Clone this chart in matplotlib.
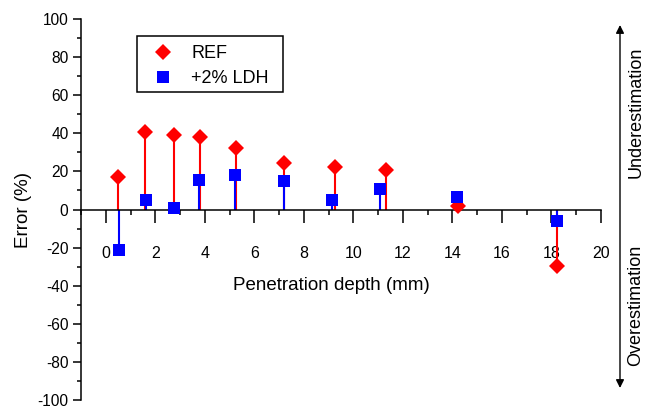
import matplotlib
matplotlib.use("Agg")
import matplotlib.pyplot as plt
from matplotlib.patches import Rectangle
from matplotlib.ticker import MultipleLocator

plt.rcParams["font.family"] = ["Liberation Sans", "DejaVu Sans"]
plt.rcParams["axes.unicode_minus"] = False

# ── Data ──────────────────────────────────────────────────────
ref_depth = [0.50, 1.58, 2.74, 3.82, 5.27, 7.21, 9.25, 11.32, 14.22, 18.24]
ref_error = [17.0, 40.5, 39.2, 37.8, 32.3, 24.5, 22.2, 20.5, 1.9, -29.8]

ldh_depth = [0.54, 1.63, 2.74, 3.75, 5.21, 7.19, 9.13, 11.08, 14.17, 18.24]
ldh_error = [-21.2, 5.2, 0.9, 15.3, 18.1, 15.1, 5.2, 10.8, 6.6, -6.1]

RED = "#ff0000"
BLUE = "#0000ff"

fig = plt.figure(figsize=(6.46, 4.09), dpi=100)
ax = fig.add_axes([81 / 646, 9 / 409, 520 / 646, 381 / 409])

# stems first, markers on top
ax.vlines(ref_depth, 0, ref_error, color=RED, lw=1.5, zorder=2)
ax.vlines(ldh_depth, 0, ldh_error, color=BLUE, lw=1.5, zorder=2)
ax.plot(ref_depth, ref_error, ls="none", marker="D", ms=7.8, color=RED,
        mew=0, label="REF", zorder=3)
ax.plot(ldh_depth, ldh_error, ls="none", marker="s", ms=8.4, color=BLUE,
        mew=0, label="+2% LDH", zorder=4)

ax.set_xlim(-1, 20)
ax.set_ylim(-100, 100)

# x axis drawn through zero, no frame on top/right
ax.spines["bottom"].set_position(("data", 0))
ax.spines["top"].set_visible(False)
ax.spines["right"].set_visible(False)
for s in ("left", "bottom"):
    ax.spines[s].set_linewidth(1.1)

ax.set_xticks(range(0, 21, 2))
ax.xaxis.set_minor_locator(MultipleLocator(1))
ax.yaxis.set_major_locator(MultipleLocator(20))
ax.yaxis.set_minor_locator(MultipleLocator(10))

ax.tick_params(axis="x", which="major", direction="out", length=9.5,
               width=1.1, pad=16.5, labelsize=11.5)
ax.tick_params(axis="x", which="minor", direction="out", length=3.8, width=1.1)
ax.tick_params(axis="y", which="major", direction="out", length=6,
               width=1.1, pad=3, labelsize=11.2)
ax.tick_params(axis="y", which="minor", direction="out", length=3, width=1.1)

ax.set_xlabel("Penetration depth (mm)", fontsize=13.5)
ax.xaxis.set_label_coords(0.481, 0.324)
ax.set_ylabel("Error (%)", fontsize=13.5)
ax.yaxis.set_label_coords(-0.094, 0.5)

# legend entries without their own frame; box drawn separately
leg = ax.legend(loc="center left", bbox_to_anchor=(68 / 520, 0.8765),
                borderaxespad=0, borderpad=0, fontsize=13, frameon=False,
                handlelength=1.55, handletextpad=0.78, labelspacing=0.45,
                markerscale=1.0)
ax.add_patch(Rectangle((0.1083, 0.8084), 0.2796, 0.1470,
                       transform=ax.transAxes, fill=False,
                       edgecolor="black", lw=1.1, zorder=5))

# double arrow with the under/over estimation notes
ax.annotate("", xy=(620 / 646, 1 - 25 / 409), xytext=(620 / 646, 1 - 388 / 409),
            xycoords="figure fraction", textcoords="figure fraction",
            arrowprops=dict(arrowstyle="<|-|>", color="black", lw=1.0,
                            mutation_scale=12, shrinkA=0, shrinkB=0))
fig.text(636 / 646, 1 - 112 / 409, "Underestimation", rotation=90,
         ha="center", va="center", fontsize=13)
fig.text(636 / 646, 1 - 305 / 409, "Overestimation", rotation=90,
         ha="center", va="center", fontsize=13)

fig.savefig("out.png", dpi=100)
